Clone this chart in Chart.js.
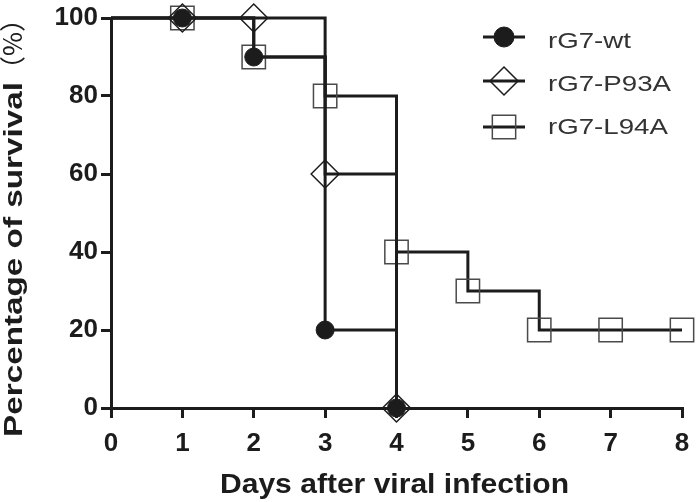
<!DOCTYPE html>
<html>
<head>
<meta charset="utf-8">
<script src="https://cdn.jsdelivr.net/npm/chart.js@4.4.0/dist/chart.umd.min.js"></script>
<style>
    html, body { margin: 0; padding: 0; background: #fff; }
    #wrap { width: 700px; height: 502px; }
</style>
</head>
<body>
<div id="wrap"><canvas id="survival" width="700" height="502"></canvas></div>
<script>
// survival data (percent alive per day)
const days = [0, 1, 2, 3, 4, 5, 6, 7, 8];
const seriesNames = ['rG7-wt', 'rG7-P93A', 'rG7-L94A'];
const survivalWt = [100, 100, 90, 20, 0];
const survivalP93A = [100, 100, 100, 60, 0];
const survivalL94A = [100, 100, 90, 80, 40, 30, 20, 20, 20];
const yTicks = [0, 20, 40, 60, 80, 100];
const xTitle = 'Days after viral infection';
const yTitleMain = 'Percentage of survival';
const yTitleUnit = '（%）';

const INK = '#1c1c1c';
const FONT = "'Liberation Sans', Arial, 'Noto Sans CJK SC', sans-serif";

const toPoints = values => values.map((v, i) => ({ x: days[i], y: v }));

// marker look for each group
const markers = [
    { style: 'circle', radius: 9, fill: INK, stroke: INK, width: 1 },
    { style: 'rectRot', radius: 14, fill: 'rgba(0,0,0,0)', stroke: INK, width: 1.5 },
    { style: 'rect', radius: 16.5, fill: 'rgba(0,0,0,0)', stroke: '#4a4a4a', width: 1.5 }
];

const buildDataset = (label, values, m) => ({
    label: label,
    data: toPoints(values),
    stepped: true,
    borderColor: INK,
    borderWidth: 3,
    fill: false,
    clip: false,
    pointStyle: m.style,
    pointRadius: ctx => ctx.dataIndex === 0 ? 0 : m.radius,
    pointHoverRadius: ctx => ctx.dataIndex === 0 ? 0 : m.radius,
    pointBackgroundColor: m.fill,
    pointBorderColor: m.stroke,
    pointBorderWidth: m.width
});

// the figure's lettering is stretched along the text direction,
// so squeeze/stretch each string to the length it has there
function fitText(ctx, text, x, y, targetW, align) {
    const sx = targetW / ctx.measureText(text).width;
    ctx.save();
    ctx.translate(x, y);
    ctx.scale(sx, 1);
    ctx.textAlign = align;
    ctx.textBaseline = 'alphabetic';
    ctx.fillText(text, 0, 0);
    ctx.restore();
    return sx;
}

// axis titles and legend drawn by hand
const figureText = {
    id: 'figureText',
    afterDraw(chart) {
        const ctx = chart.ctx;
        const area = chart.chartArea;

        // x title
        ctx.save();
        ctx.fillStyle = INK;
        ctx.font = `bold 28px ${FONT}`;
        fitText(ctx, xTitle, (area.left + area.right) / 2 - 2, 493, 349, 'center');
        ctx.restore();

        // y title, reads bottom to top
        ctx.save();
        ctx.fillStyle = INK;
        ctx.translate(22, 437);
        ctx.rotate(-Math.PI / 2);
        ctx.font = `bold 26px ${FONT}`;
        fitText(ctx, yTitleMain, 0, 0, 355, 'left');
        ctx.font = `26px 'Noto Sans CJK SC', ${FONT}`;
        fitText(ctx, yTitleUnit, 355, 0, 76, 'left');
        ctx.restore();

        // legend: line with the marker on top
        const symY = [37, 81, 127];
        const textY = [48, 91, 134];
        ctx.save();
        ctx.font = `22px ${FONT}`;
        const legendScale = 123 / ctx.measureText(seriesNames[1]).width;
        ctx.restore();
        markers.forEach((m, i) => {
            const y = symY[i];
            ctx.save();
            ctx.strokeStyle = INK;
            ctx.lineWidth = 3;
            ctx.beginPath();
            ctx.moveTo(483, y);
            ctx.lineTo(525, y);
            ctx.stroke();
            ctx.fillStyle = m.fill;
            ctx.strokeStyle = m.stroke;
            ctx.lineWidth = m.width;
            Chart.helpers.drawPoint(ctx, {
                pointStyle: m.style,
                radius: m.style === 'circle' ? 10 : m.radius,
                rotation: 0,
                borderWidth: m.width
            }, 504, y);
            ctx.fillStyle = '#333';
            ctx.font = `22px ${FONT}`;
            const w = ctx.measureText(seriesNames[i]).width * legendScale;
            fitText(ctx, seriesNames[i], 548, textY[i], w, 'left');
            ctx.restore();
        });
    }
};

const tickFont = { family: FONT, size: 26, weight: 'bold' };

new Chart(document.getElementById('survival'), {
    type: 'line',
    data: {
        datasets: [
            buildDataset(seriesNames[0], survivalWt, markers[0]),
            buildDataset(seriesNames[1], survivalP93A, markers[1]),
            buildDataset(seriesNames[2], survivalL94A, markers[2])
        ]
    },
    options: {
        responsive: false,
        animation: false,
        events: [],
        layout: { padding: { left: 0, right: 14, top: 16, bottom: 0 } },
        plugins: {
            legend: { display: false },
            tooltip: { enabled: false }
        },
        scales: {
            x: {
                type: 'linear',
                min: 0,
                max: 8,
                afterBuildTicks: s => { s.ticks = days.map(d => ({ value: d })); },
                afterFit: s => { s.height = 94; s.paddingLeft = 0; s.paddingRight = 0; },
                grid: { drawOnChartArea: false, drawTicks: true, tickLength: 10, lineWidth: 3, color: INK },
                border: { display: true, width: 3, color: INK },
                ticks: { padding: 10, color: INK, font: tickFont, maxRotation: 0 }
            },
            y: {
                min: 0,
                max: 100,
                afterBuildTicks: s => { s.ticks = yTicks.map(v => ({ value: v })); },
                afterFit: s => { s.width = 111; s.paddingTop = 0; s.paddingBottom = 0; },
                grid: { drawOnChartArea: false, drawTicks: true, tickLength: 10, lineWidth: 3, color: INK },
                border: { display: true, width: 3, color: INK },
                ticks: { padding: 3, color: INK, font: tickFont }
            }
        }
    },
    plugins: [figureText]
});
</script>
</body>
</html>
